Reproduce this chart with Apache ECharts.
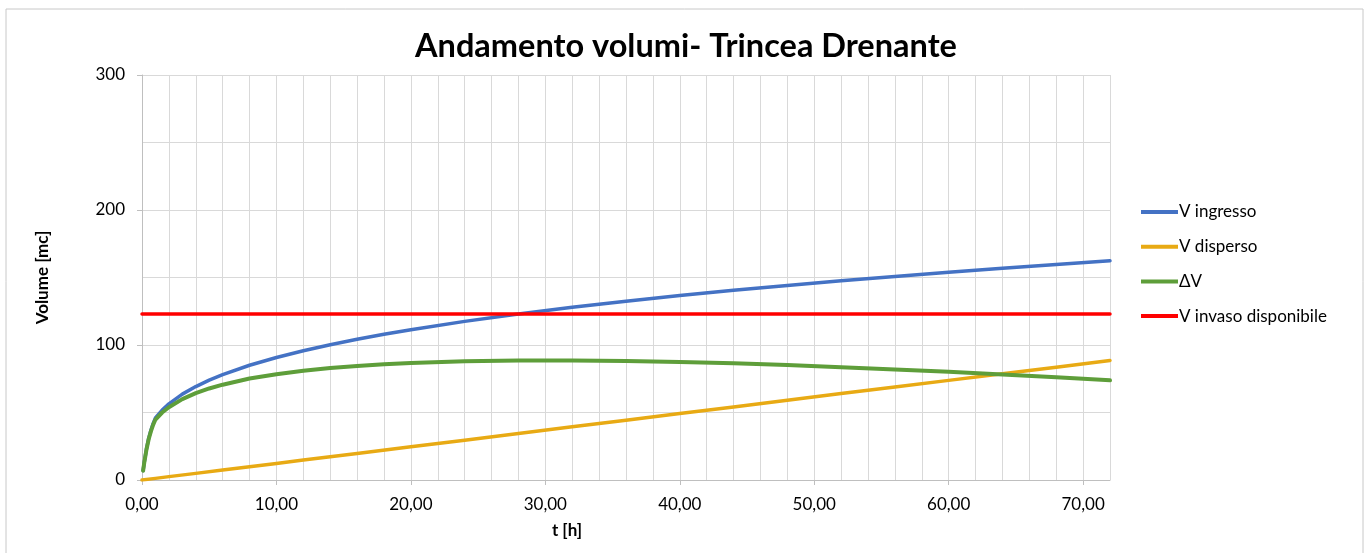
<!DOCTYPE html>
<html>
<head>
<meta charset="utf-8">
<script src="https://cdn.jsdelivr.net/npm/echarts@6/dist/echarts.min.js"></script>
<style>html,body{margin:0;padding:0;background:#fff}#c{width:1372px;height:553px}</style>
</head>
<body>
<div id="c"></div>
<script>
const titleText = 'Andamento volumi- Trincea Drenante';
const seriesNames = ['V ingresso', 'V disperso', '\u0394V', 'V invaso disponibile'];
const xTickLabels = [0, 10, 20, 30, 40, 50, 60, 70];
const yTickLabels = [0, 100, 200, 300];

const tHours = [0.083, 0.167, 0.25, 0.333, 0.5, 0.667, 0.833, 1, 1.5, 2, 3, 4, 5, 6, 8, 10, 12, 14, 16, 18, 20, 24, 28, 32, 36, 40, 44, 48, 52, 56, 60, 64, 68, 72];
const vIngresso = [7, 13, 18, 23, 31, 37, 42, 46, 51.8, 56.4, 63.6, 69.2, 74.0, 78.0, 85.0, 90.7, 95.7, 100.2, 104.2, 107.9, 111.3, 117.5, 122.9, 127.9, 132.4, 136.6, 140.5, 144.1, 147.6, 150.8, 153.9, 156.9, 159.7, 162.4];
const tDisperso = [0, 1, 2, 4, 6, 8, 10, 12, 16, 20, 24, 28, 32, 36, 40, 44, 48, 52, 56, 60, 64, 68, 72];
const vDisperso = [0, 1.2, 2.5, 4.9, 7.4, 9.8, 12.3, 14.8, 19.7, 24.6, 29.5, 34.4, 39.4, 44.3, 49.2, 54.1, 59.0, 64.0, 68.9, 73.8, 78.7, 83.6, 88.6];
const deltaV = [6.9, 12.8, 17.7, 22.6, 30.4, 36.2, 41.0, 44.8, 50.0, 53.9, 59.9, 64.3, 67.8, 70.6, 75.2, 78.4, 80.9, 83.0, 84.5, 85.8, 86.7, 88.0, 88.5, 88.5, 88.1, 87.4, 86.4, 85.1, 83.6, 81.9, 80.1, 78.2, 76.1, 73.8];
const tInvaso = [0, 72];
const vInvaso = [123, 123];

const colors = ['#4472C4', '#E8AA14', '#5E9E3A', '#FF0000'];
const FONT = 'Lato';

function pairs(xs, ys) { return xs.map((x, i) => [x, ys[i]]); }
const fmt = v => v.toFixed(2).replace('.', ',');

const chart = echarts.init(document.getElementById('c'), null, {renderer: 'canvas'});
const lineSeries = (name, data, color, z, w) => ({
  name, type: 'line', data, xAxisIndex: 0, yAxisIndex: 0,
  symbol: 'none', smooth: false,
  lineStyle: {color, width: w, cap: 'round', join: 'round'}, itemStyle: {color}, z, animation: false
});

chart.setOption({
  animation: false,
  textStyle: {fontFamily: FONT},
  title: {
    text: titleText, left: 'center', top: 25,
    textStyle: {fontFamily: FONT, fontWeight: 'bold', fontSize: 32.5, color: '#000'}
  },
  grid: {left: 142, right: 262, top: 75, bottom: 73, containLabel: false},
  legend: {
    orient: 'vertical', left: 1136, top: 197,
    icon: 'rect', itemWidth: 37, itemHeight: 4, itemGap: 14.7,
    data: seriesNames,
    textStyle: {fontFamily: FONT, fontSize: 17, color: '#000', lineHeight: 20, padding: [0, 0, 0, -4]}
  },
  xAxis: [
    {
      type: 'value', min: 0, max: 72, interval: 2, position: 'bottom',
      axisLine: {show: true, lineStyle: {color: '#bfbfbf', width: 1}},
      axisTick: {show: false}, axisLabel: {show: false},
      splitLine: {show: true, lineStyle: {color: '#d9d9d9', width: 1}}
    },
    {
      type: 'value', min: 0, max: 72, position: 'bottom',
      axisLine: {show: false},
      axisTick: {show: true, length: 5, customValues: xTickLabels, lineStyle: {color: '#bfbfbf'}},
      axisLabel: {show: true, customValues: xTickLabels, margin: 16, fontSize: 17, color: '#000', fontFamily: FONT, formatter: fmt},
      splitLine: {show: false}
    }
  ],
  yAxis: {
    type: 'value', min: 0, max: 300, interval: 100,
    name: 'Volume [mc]', nameLocation: 'middle', nameGap: 91, nameRotate: 90,
    nameTextStyle: {fontFamily: FONT, fontWeight: 'bold', fontSize: 17, color: '#000'},
    axisLine: {show: true, lineStyle: {color: '#bfbfbf', width: 1}},
    axisTick: {show: true, length: 5, lineStyle: {color: '#bfbfbf'}},
    minorTick: {show: false, splitNumber: 2},
    minorSplitLine: {show: true, lineStyle: {color: '#d9d9d9', width: 1}},
    axisLabel: {margin: 17, fontSize: 17, color: '#000', fontFamily: FONT},
    splitLine: {show: true, lineStyle: {color: '#d9d9d9', width: 1}}
  },
  graphic: [
    {type: 'rect', shape: {x: 6, y: 9, width: 1357, height: 560}, style: {fill: 'none', stroke: '#c8c8c8', lineWidth: 1}, z: -1, silent: true},
    {type: 'text', x: 567, y: 531, style: {text: 't [h]', font: 'bold 17px ' + FONT, fill: '#000', textAlign: 'center', textVerticalAlign: 'middle'}}
  ],
  series: [
    lineSeries(seriesNames[0], pairs(tHours, vIngresso), colors[0], 2, 3.5),
    lineSeries(seriesNames[1], pairs(tDisperso, vDisperso), colors[1], 3, 3.5),
    lineSeries(seriesNames[2], pairs(tHours, deltaV), colors[2], 4, 4),
    lineSeries(seriesNames[3], pairs(tInvaso, vInvaso), colors[3], 5, 3.5)
  ]
});
</script>
</body>
</html>
